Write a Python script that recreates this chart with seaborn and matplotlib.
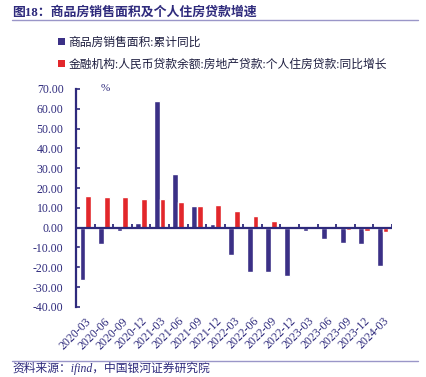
import numpy as np
import pandas as pd
import matplotlib
matplotlib.use("Agg")
import matplotlib.pyplot as plt
import seaborn as sns
from matplotlib.lines import Line2D
from matplotlib.patches import Patch

# Quarterly data
dates = ['2020-03', '2020-06', '2020-09', '2020-12',
         '2021-03', '2021-06', '2021-09', '2021-12',
         '2022-03', '2022-06', '2022-09', '2022-12',
         '2023-03', '2023-06', '2023-09', '2023-12', '2024-03']
sales_area = [-26.6, -8.4, -1.9, 2.4, 63.7, 27.3, 11.0, 1.9,
              -14.0, -22.5, -22.5, -24.4, -1.9, -5.6, -7.8, -8.5, -19.5]
housing_loan = [15.8, 15.6, 15.6, 14.4, 14.4, 12.7, 11.1, 11.3,
                8.6, 5.9, 3.6, 1.0, 0.2, -0.4, -1.3, -1.6, -2.2]
series_names = ['商品房销售面积:累计同比',
                '金融机构:人民币贷款余额:房地产贷款:个人住房贷款:同比增长']
yticks = [70, 60, 50, 40, 30, 20, 10, 0, -10, -20, -30, -40]

NAVY = '#2e2a7c'
BLUE = '#3b3086'
RED = '#e2272b'
LINE = '#9a96c8'

sns.set_theme(style='white')
plt.rcParams['font.family'] = ['Liberation Serif', 'Noto Sans CJK SC']
plt.rcParams['axes.unicode_minus'] = True

df = pd.DataFrame({
    'date': dates * 2,
    'value': sales_area + housing_loan,
    'series': [series_names[0]] * len(dates) + [series_names[1]] * len(dates),
})

fig = plt.figure(figsize=(4.27, 3.77), dpi=100)
ax = fig.add_axes([0.178, 0.186, 0.740, 0.578])

sns.barplot(data=df, x='date', y='value', hue='series', order=dates,
            hue_order=series_names, palette=[BLUE, RED], width=0.62,
            saturation=1, legend=False, ax=ax)

ax.set_xlim(-0.5, len(dates) - 0.5)
ax.set_ylim(-40, 70)
ax.set_yticks(yticks)
ax.set_yticklabels([f'{v:.2f}' for v in yticks])
ax.set_xlabel('')
ax.set_ylabel('')

# spines
for s in ['top', 'right', 'bottom']:
    ax.spines[s].set_visible(False)
ax.spines['left'].set_color(NAVY)
ax.spines['left'].set_linewidth(1.6)

ax.tick_params(axis='y', direction='in', length=3, width=1.2, color=NAVY,
               labelcolor=NAVY, labelsize=8.5, pad=9, left=True)
ax.tick_params(axis='x', length=0, labelcolor=NAVY, labelsize=8.5, pad=6)
for lab in ax.get_xticklabels():
    lab.set_rotation(45)
    lab.set_ha('right')
    lab.set_rotation_mode('anchor')

# zero line with short boundary ticks
ax.axhline(0, color=NAVY, lw=1.6, zorder=3)
bounds = np.arange(len(dates) + 1) - 0.5
ax.vlines(bounds, 0, 1.6, color=NAVY, lw=1.3, zorder=3)

ax.text(0.0785, 1.0, '%', transform=ax.transAxes, color=NAVY, fontsize=8,
        ha='left', va='center')

# legend
handles = [Patch(facecolor=BLUE, edgecolor='none'),
           Patch(facecolor=RED, edgecolor='none')]
fig.legend(handles, series_names, loc='upper left',
           bbox_to_anchor=(0.125, 0.915), frameon=False, fontsize=8.5,
           handlelength=0.55, handleheight=0.55, handletextpad=0.35,
           labelspacing=0.85, labelcolor='#1e1e40', borderaxespad=0)

# title and source with rules
fig.text(0.028, 0.968, '图18：商品房销售面积及个人住房贷款增速', color=NAVY,
         fontsize=9.3, fontweight='bold', ha='left', va='center')
fig.add_artist(Line2D([0.028, 0.979], [0.947, 0.947], color=LINE, lw=1.0))
fig.add_artist(Line2D([0.028, 0.979], [0.043, 0.043], color=LINE, lw=1.0))
fig.text(0.028, 0.022, '资料来源：ifind，中国银河证券研究院', color=NAVY,
         fontsize=8.5, style='italic', ha='left', va='center')

fig.savefig('out.png', dpi=100)
